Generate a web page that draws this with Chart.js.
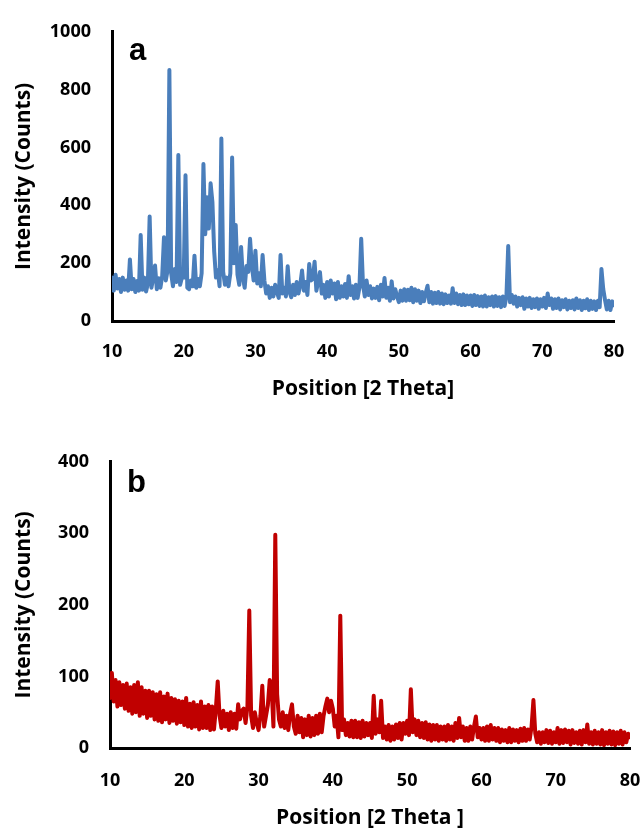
<!DOCTYPE html>
<html>
<head>
  <meta charset="UTF-8">
  <title>XRD patterns</title>
  <script src="https://cdn.jsdelivr.net/npm/chart.js"></script>
  <style>
    body {
      margin: 0;
      background: #fff;
      font-family: "Open Sans", sans-serif;
    }
    .panel {
      position: absolute;
      left: 0;
    }
  </style>
</head>
<body>
  <canvas id="chartA" class="panel" style="top:0px" width="644" height="420"></canvas>
  <canvas id="chartB" class="panel" style="top:430px" width="644" height="401"></canvas>

  <script>
    // scan grid: 10 to 80 deg, 0.25 deg step
    const scanStart = 10;
    const scanStep = 0.25;
    const xTicks = [10, 20, 30, 40, 50, 60, 70, 80];
    const yTicksA = [0, 200, 400, 600, 800, 1000];
    const yTicksB = [0, 100, 200, 300, 400];

    // pattern a (counts), one row per degree
    const countsA = [
      150, 105, 160, 112,   145, 100, 150, 108,   140, 105, 213, 110,   145, 100, 138, 105,
      297, 108, 150, 102,   130, 361, 115, 150,   192, 110, 148, 115,   155, 290, 140, 175,
      868, 165, 120, 180,   135, 574, 125, 150,   150, 504, 115, 110,   140, 120, 226, 115,
      145, 120, 165, 543,   300, 428, 320, 476,   412, 240, 150, 175,   120, 631, 170, 125,
      150, 120, 165, 565,   200, 332, 160, 125,   256, 150, 115, 190,   170, 284, 190, 140,
      243, 130, 165, 120,   228, 140, 95, 120,    80, 115, 85, 125,     100, 80, 228, 95,
      115, 85, 189, 100,    82, 125, 90, 135,     95, 125, 175, 105,    135, 90, 197, 140,
      145, 205, 105, 135,   169, 95, 125, 80,     135, 85, 140, 95,     130, 75, 135, 80,
      120, 85, 128, 80,     155, 90, 120, 78,     125, 80, 115, 284,    125, 85, 140, 90,
      120, 78, 112, 80,     118, 72, 125, 85,     149, 80, 115, 70,     137, 78, 110, 85,
      65, 105, 70, 110,     70, 108, 72, 115,     65, 110, 70, 105,     62, 100, 68, 98,
      122, 65, 100, 60,     98, 62, 100, 60,      95, 58, 92, 62,       88, 60, 113, 62,
      95, 58, 90, 55,       92, 55, 88, 58,       88, 52, 90, 55,       86, 52, 85, 50,
      88, 50, 82, 55,       85, 50, 86, 52,       82, 48, 85, 52,       85, 259, 65, 90,
      60, 85, 50, 80,       55, 82, 42, 78,       50, 80, 45, 75,       48, 78, 42, 75,
      50, 80, 45, 95,       55, 78, 42, 75,       45, 78, 40, 72,       48, 75, 40, 70,
      45, 72, 40, 78,       45, 72, 38, 70,       44, 75, 38, 70,       42, 68, 38, 70,
      48, 180, 110, 72,     40, 70, 38, 68,
      55
    ];

    // pattern b (counts)
    const countsB = [
      70, 105, 65, 95,      58, 92, 60, 88,       55, 90, 52, 85,       48, 88, 50, 92,
      45, 85, 48, 80,       42, 80, 45, 78,       40, 75, 38, 78,       36, 72, 40, 76,
      35, 70, 38, 68,       34, 66, 36, 65,       32, 70, 30, 62,       28, 64, 30, 60,
      26, 65, 28, 58,       28, 60, 25, 58,       26, 55, 93, 45,       28, 52, 30, 48,
      25, 50, 28, 48,       27, 61, 40, 52,       55, 35, 58, 192,      45, 28, 50, 35,
      25, 45, 87, 30,       45, 60, 95, 85,       30, 298, 75, 40,      30, 50, 28, 45,
      25, 48, 61, 30,       20, 45, 22, 42,       15, 40, 18, 45,       16, 42, 18, 45,
      20, 48, 22, 45,       58, 69, 50, 66,       55, 30, 45, 15,       185, 25, 40, 18,
      35, 16, 38, 15,       38, 15, 36, 14,       38, 16, 35, 18,       35, 14, 73, 20,
      40, 22, 66, 14,       30, 12, 32, 10,       30, 12, 33, 14,       35, 12, 35, 20,
      38, 18, 82, 22,       40, 18, 38, 15,       35, 14, 36, 12,       33, 10, 32, 12,
      32, 10, 30, 12,       30, 10, 32, 12,       30, 10, 35, 14,       42, 15, 30, 10,
      28, 10, 30, 12,       30, 44, 15, 28,       12, 28, 10, 30,       10, 32, 12, 28,
      10, 28, 8, 26,        10, 25, 8, 28,        8, 26, 10, 25,        8, 27, 10, 28,
      10, 26, 12, 30,       67, 20, 8, 22,        6, 22, 8, 25,         7, 24, 6, 22,
      8, 28, 6, 25,         7, 26, 8, 24,         5, 25, 7, 22,         6, 24, 5, 25,
      8, 33, 6, 22,         5, 24, 6, 22,         5, 25, 4, 22,         6, 24, 5, 23,
      4, 22, 6, 24,         5, 22, 8, 20,
      15
    ];

    const toPoints = arr => arr.map((v, i) => ({ x: scanStart + i * scanStep, y: v }));

    // panel letter inside the plot
    const panelLetter = {
      id: 'panelLetter',
      afterDraw(chart, args, opts) {
        const ctx = chart.ctx;
        ctx.save();
        ctx.font = 'bold 31px Arial';
        ctx.fillStyle = '#000';
        ctx.textBaseline = 'alphabetic';
        ctx.fillText(opts.text, chart.chartArea.left + opts.dx, chart.chartArea.top + opts.dy);
        ctx.restore();
      }
    };

    function makeChart(id, data, color, yTicks, cfg) {
      new Chart(document.getElementById(id), {
        type: 'line',
        data: {
          datasets: [{
            data: toPoints(data),
            borderColor: color,
            borderWidth: 4,
            borderJoinStyle: 'round',
            borderCapStyle: 'round',
            pointRadius: 0,
            tension: 0,
            fill: false
          }]
        },
        options: {
          responsive: false,
          animation: false,
          layout: { padding: { left: 0, top: cfg.top, right: cfg.right, bottom: 0 } },
          plugins: {
            legend: { display: false },
            tooltip: { enabled: false },
            panelLetter: { text: cfg.letter, dx: 17, dy: cfg.letterDy }
          },
          scales: {
            x: {
              type: 'linear',
              min: 10,
              max: 80,
              afterBuildTicks: s => { s.ticks = xTicks.map(v => ({ value: v })); },
              afterFit: s => {
                s.height = cfg.xHeight;
                s.paddingLeft = 0;
                s.paddingRight = 0;
              },
              grid: { display: false, drawTicks: false },
              border: { display: true, color: '#000', width: 3 },
              ticks: {
                color: '#000',
                padding: cfg.xPad,
                callback: v => String(v),
                font: { family: 'Open Sans', size: 18, weight: 'bold' }
              },
              title: {
                display: true,
                text: cfg.xTitle,
                color: '#000',
                padding: { top: 0, bottom: cfg.xTitlePad },
                font: { family: 'Open Sans', size: 21, weight: 'bold' }
              }
            },
            y: {
              min: 0,
              max: yTicks[yTicks.length - 1],
              afterBuildTicks: s => { s.ticks = yTicks.map(v => ({ value: v })); },
              afterFit: s => { s.width = cfg.yWidth; },
              grid: { display: false, drawTicks: false },
              border: { display: true, color: '#000', width: 3 },
              ticks: {
                color: '#000',
                padding: 21,
                callback: v => String(v),
                font: { family: 'Open Sans', size: 18, weight: 'bold' }
              },
              title: {
                display: true,
                text: 'Intensity (Counts)',
                color: '#000',
                padding: { top: 11, bottom: 0 },
                font: { family: 'Open Sans', size: 21, weight: 'bold' }
              }
            }
          }
        },
        plugins: [panelLetter]
      });
    }

    makeChart('chartA', countsA, '#4a7ebb', yTicksA, {
      letter: 'a', letterDy: 28, top: 25, right: 30, yWidth: 112, xHeight: 99, xPad: 20, xTitlePad: 18,
      xTitle: 'Position [2 Theta]'
    });
    makeChart('chartB', countsB, '#c00000', yTicksB, {
      letter: 'b', letterDy: 30, top: 23, right: 14, yWidth: 110, xHeight: 83, xPad: 22, xTitlePad: 0,
      xTitle: 'Position [2 Theta ]'
    });
  </script>
</body>
</html>
